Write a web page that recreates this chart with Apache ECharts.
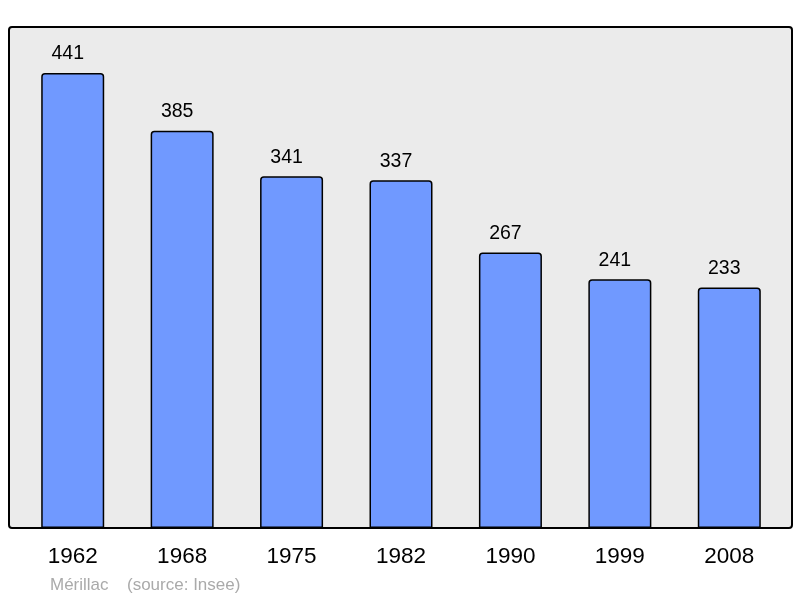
<!DOCTYPE html>
<html><head><meta charset="utf-8">
<script src="https://cdn.jsdelivr.net/npm/echarts@6/dist/echarts.min.js"></script>
<style>html,body{margin:0;padding:0;background:#fff}#c{width:800px;height:598px}</style>
</head><body><div id="c"></div>
<script>
const categories = ['1962','1968','1975','1982','1990','1999','2008'];
const population = [441,385,341,337,267,241,233];
const footerCommune = 'Mérillac';
const footerSource = '(source: Insee)';

const FONT = '"Liberation Sans", Arial, sans-serif';
const chart = echarts.init(document.getElementById('c'), null, {renderer:'canvas'});
chart.setOption({
  animation:false,
  backgroundColor:'#fff',
  graphic:[
    {type:'rect', shape:{x:9,y:27,width:783,height:501,r:3}, style:{fill:'#ebebeb',stroke:'#000',lineWidth:2}, z:-10, silent:true},
    {type:'text', left:50, top:577, style:{text:footerCommune, fill:'#aaaaaa', font:'17px ' + FONT}},
    {type:'text', left:127, top:577, style:{text:footerSource, fill:'#aaaaaa', font:'17px ' + FONT}}
  ],
  grid:{left:18, right:16, top:27, bottom:70},
  xAxis:{type:'category', data:categories, axisLine:{show:false}, axisTick:{show:false},
    axisLabel:{color:'#000', fontSize:22.5, fontFamily:FONT, margin:17}},
  yAxis:{type:'value', min:0, max:485.6, show:false, splitLine:{show:false}},
  series:[{type:'bar', data:population, barWidth:63,
    itemStyle:{color:'#7099ff', borderColor:'#000', borderWidth:1.5, borderRadius:[3,3,0,0]},
    label:{show:true, position:'top', distance:9, offset:[-5,0], color:'#000', fontSize:19.5, fontFamily:FONT}}]
});
</script></body></html>
